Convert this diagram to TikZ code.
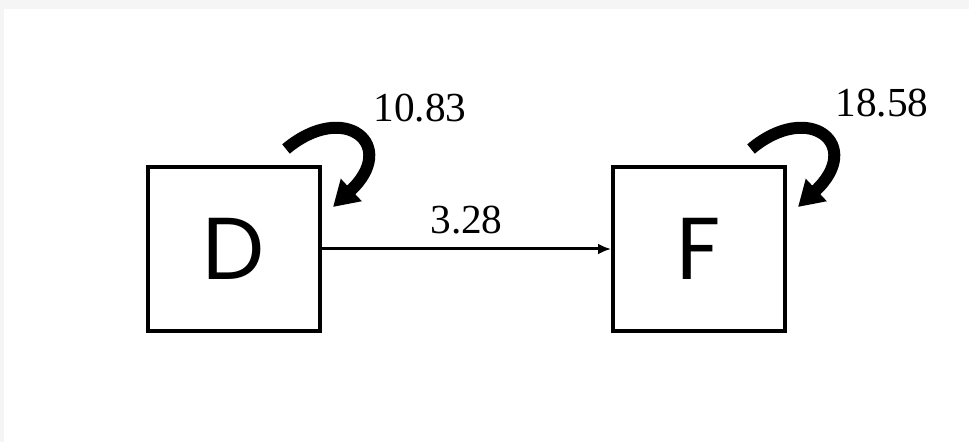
\documentclass[tikz,border=0pt]{standalone}
\usepackage{fontspec}
\setmainfont{Liberation Serif}
\newfontfamily\boxfont{Poppins}
\usetikzlibrary{arrows.meta,positioning}

\tikzset{
  statebox/.style={draw, line width=.08cm, minimum width=3.44cm, minimum height=3.28cm, inner sep=0pt, font=\boxfont\fontsize{50}{60}\selectfont},
  rate/.style={font=\fontsize{23.5}{28}\selectfont, inner sep=0pt},
  selfloop/.style={line width=.24cm, -{Triangle[length=.5cm,width=.58cm]}}
}

\begin{document}
\begin{tikzpicture}[>=latex]
  \fill [gray!8] (0,0) rectangle (19.38cm,8.84cm);
  \fill [white] (.08cm,0) rectangle (19.38cm,8.66cm);

  \node [statebox] (D) at (4.68cm,3.86cm) {D};
  \node [statebox] (F) at (13.98cm,3.86cm) {F};

  \draw [line width=.06cm, -{Latex[length=.26cm,width=.22cm]}] (D.east) -- node [rate, above=.27cm] {3.28} (F.west);

  \draw [selfloop] ([shift={(-.72cm,.32cm)}]D.north east) .. controls ([shift={(.45cm,1.3cm)}]D.north east) and ([shift={(1.55cm,.4cm)}]D.north east) .. ([shift={(.22cm,-.84cm)}]D.north east);
  \draw [selfloop] ([shift={(-.72cm,.32cm)}]F.north east) .. controls ([shift={(.45cm,1.3cm)}]F.north east) and ([shift={(1.55cm,.4cm)}]F.north east) .. ([shift={(.22cm,-.84cm)}]F.north east);

  \node [rate] (dloop) at ([shift={(1.96cm,1.14cm)}]D.north east) {10.83};
  \node [rate] (floop) at ([shift={(1.9cm,1.24cm)}]F.north east) {18.58};
\end{tikzpicture}
\end{document}
